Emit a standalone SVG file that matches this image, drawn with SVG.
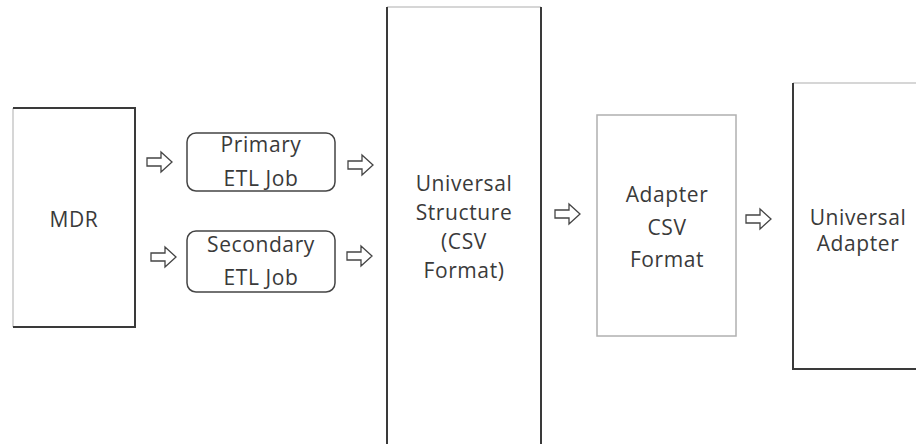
<svg xmlns="http://www.w3.org/2000/svg" width="916" height="444" viewBox="0 0 916 444">
<defs>
<style>
.t{font-family:"Open Sans","Liberation Sans",sans-serif;font-size:21px;letter-spacing:0.6px;fill:#3a3a3a;text-anchor:middle}
.dk{stroke:#3a3a3a;stroke-width:2;fill:none}
.lt{stroke:#c8c8c8;stroke-width:1.5;fill:none}
.rr{stroke:#444;stroke-width:1.5;fill:#fff}
.ar{stroke:#444;stroke-width:1.3;fill:#fff;stroke-linejoin:miter}
</style>
<path id="arr" d="M0,-4 H14 V-10 L25,0 L14,10 V4 H0 Z"/>
</defs>
<rect width="916" height="444" fill="#fff"/>
<g id="mdr">
<rect x="13" y="108" width="122" height="219" fill="#fff" stroke="none"/>
<path class="lt" d="M13,108 V327"/>
<path class="dk" d="M13,108 H135 V327 H13"/>
<text class="t" x="74" y="227">MDR</text>
</g>
<g id="primary">
<rect class="rr" x="187" y="133" width="148" height="58" rx="9"/>
<text class="t" x="261" y="152">Primary</text>
<text class="t" x="261" y="186">ETL Job</text>
</g>
<g id="secondary">
<rect class="rr" x="187" y="231" width="148" height="61" rx="9"/>
<text class="t" x="261" y="252">Secondary</text>
<text class="t" x="261" y="285">ETL Job</text>
</g>
<g id="universal-structure">
<rect x="387" y="7" width="154" height="450" fill="#fff" stroke="none"/>
<path class="lt" d="M387,7 H541"/>
<path class="dk" d="M387,7 V450 M541,7 V450"/>
<text class="t" x="464" y="191">Universal</text>
<text class="t" x="464" y="220">Structure</text>
<text class="t" x="464" y="249">(CSV</text>
<text class="t" x="464" y="278">Format)</text>
</g>
<g id="adapter-csv">
<rect x="597" y="115" width="139" height="221" fill="#fff" stroke="#b0b0b0" stroke-width="1.5"/>
<text class="t" x="667" y="202">Adapter</text>
<text class="t" x="667" y="235">CSV</text>
<text class="t" x="667" y="267">Format</text>
</g>
<g id="universal-adapter">
<rect x="793" y="83" width="130" height="286" fill="#fff" stroke="none"/>
<path class="lt" d="M793,83 H920"/>
<path class="dk" d="M793,83 V369 H920"/>
<text class="t" x="858" y="225">Universal</text>
<text class="t" x="858" y="251">Adapter</text>
</g>
<g id="connectors">
<use href="#arr" class="ar" x="147" y="162"/>
<use href="#arr" class="ar" x="151" y="257"/>
<use href="#arr" class="ar" x="348" y="165"/>
<use href="#arr" class="ar" x="347" y="256"/>
<use href="#arr" class="ar" x="555" y="214"/>
<use href="#arr" class="ar" x="746" y="219"/>
</g>
</svg>
